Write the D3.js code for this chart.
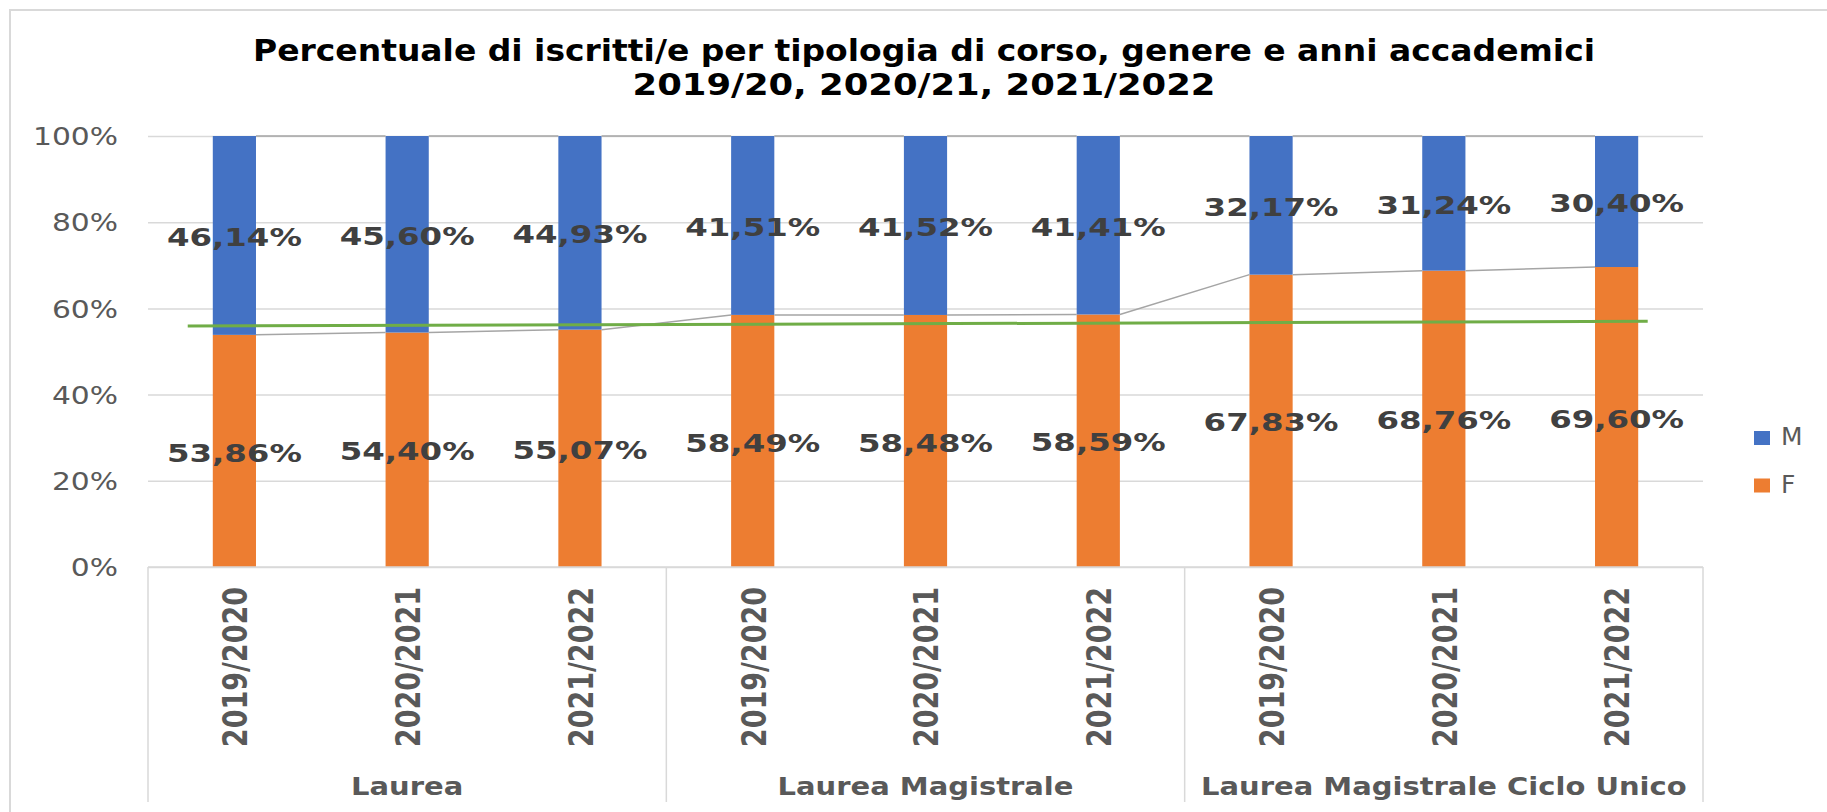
<!DOCTYPE html>
<html>
<head>
<meta charset="utf-8">
<script src="https://cdn.jsdelivr.net/npm/d3@7"></script>
<style>
  body { margin: 0; background: #fff; }
  svg { display: block; }
</style>
</head>
<body>
<svg id="chart" width="1827" height="812"></svg>
<script>
// ---- data ----
var years = ["2019/2020", "2020/2021", "2021/2022"];
var groups = ["Laurea", "Laurea Magistrale", "Laurea Magistrale Ciclo Unico"];
var femaleValues = [53.86, 54.40, 55.07, 58.49, 58.48, 58.59, 67.83, 68.76, 69.60];
var maleValues   = [46.14, 45.60, 44.93, 41.51, 41.52, 41.41, 32.17, 31.24, 30.40];
var yTicks = [0, 20, 40, 60, 80, 100];
// green line: [category position, value] at its two ends
var greenLine = [[-0.27, 55.9], [8.18, 57.0]];
var titleLines = ["Percentuale di iscritti/e per tipologia di corso, genere e anni accademici",
                  "2019/20, 2020/21, 2021/2022"];

var colors = {F: "#ED7D31", M: "#4472C4"};

// rows for the stack
var rows = femaleValues.map(function(f, i) {
  return {i: i, group: groups[Math.floor(i / 3)], year: years[i % 3], F: f, M: maleValues[i]};
});

var svg = d3.select("#chart"),
    plotLeft = 148, plotRight = 1703, plotTop = 136, plotBottom = 567;

var x = d3.scaleBand()
    .domain(d3.range(rows.length))
    .range([plotLeft, plotRight])
    .paddingInner(0.75)
    .paddingOuter(0.375);

var y = d3.scaleLinear()
    .domain([0, 100])
    .range([plotBottom, plotTop]);

var bw = x.bandwidth();
var cx = function(i) { return x(i) + bw / 2; };
// continuous position over categories (for the green line)
var xc = d3.scaleLinear().domain([0, rows.length - 1]).range([cx(0), cx(rows.length - 1)]);

// frame
svg.append("path")
    .attr("d", "M10,812 L10,10 L1827,10")
    .attr("fill", "none")
    .attr("stroke", "#d9d9d9")
    .attr("stroke-width", 2);

// title
svg.append("g")
    .attr("font-family", "DejaVu Sans")
    .attr("font-weight", "bold")
    .attr("font-size", 31)
    .attr("text-anchor", "middle")
    .attr("fill", "#000")
  .selectAll("text")
  .data(titleLines)
  .enter().append("text")
    .attr("x", 924)
    .attr("y", function(d, i) { return 61 + i * 34; })
    .attr("textLength", function(d, i) { return i == 0 ? 1342 : 583; })
    .attr("lengthAdjust", "spacingAndGlyphs")
    .text(function(d) { return d; });

// y axis + gridlines
var yAxis = svg.append("g")
    .attr("transform", "translate(" + plotLeft + ",0)")
    .call(d3.axisLeft(y).tickValues(yTicks).tickSize(-(plotRight - plotLeft)).tickFormat(function(d) { return d + "%"; }));
yAxis.select(".domain").remove();
yAxis.selectAll(".tick line")
    .attr("stroke", "#d9d9d9")
    .attr("stroke-width", 1.5);
yAxis.selectAll(".tick text")
    .attr("x", 0)
    .attr("dy", "0.36em")
    .attr("transform", "translate(-30,0) scale(1.24,1)")
    .attr("font-family", "DejaVu Sans")
    .attr("font-size", 24)
    .attr("fill", "#595959");

// stacked bars
var stack = d3.stack().keys(["F", "M"]);
var layers = stack(rows);

svg.append("g")
  .selectAll("g")
  .data(layers)
  .enter().append("g")
    .attr("fill", function(d) { return colors[d.key]; })
  .selectAll("rect")
  .data(function(d) { return d; })
  .enter().append("rect")
    .attr("x", function(d) { return x(d.data.i); })
    .attr("y", function(d) { return y(d[1]); })
    .attr("height", function(d) { return y(d[0]) - y(d[1]); })
    .attr("width", bw);

// series lines between bars
layers.forEach(function(layer) {
  var segs = layer.slice(0, -1).map(function(d, i) {
    return [[x(i) + bw, y(d[1])], [x(i + 1), y(layer[i + 1][1])]];
  });
  svg.append("g").selectAll("path")
    .data(segs)
    .enter().append("path")
      .attr("d", function(s) { return d3.line()(s); })
      .attr("fill", "none")
      .attr("stroke", "#a5a5a5")
      .attr("stroke-width", 1.5);
});

// green line
svg.append("path")
    .datum(greenLine)
    .attr("d", d3.line().x(function(d) { return xc(d[0]); }).y(function(d) { return y(d[1]); }))
    .attr("fill", "none")
    .attr("stroke", "#70AD47")
    .attr("stroke-width", 3);

// data labels
var fmt = function(v) { return v.toFixed(2).replace(".", ",") + "%"; };
svg.append("g")
    .attr("font-family", "DejaVu Sans")
    .attr("font-weight", "bold")
    .attr("font-size", 24)
    .attr("text-anchor", "middle")
    .attr("fill", "#404040")
  .selectAll("g")
  .data(layers)
  .enter().append("g")
  .selectAll("text")
  .data(function(d) { return d; })
  .enter().append("text")
    .attr("transform", function(d) {
      return "translate(" + cx(d.data.i) + "," + (y((d[0] + d[1]) / 2) + 2) + ") scale(1.35,1)";
    })
    .attr("dy", "0.36em")
    .text(function(d) { return fmt(d[1] - d[0]); });

// x axis line and category box
var boundaries = [plotLeft].concat(d3.range(1, groups.length).map(function(g) {
  return (x(g * 3 - 1) + bw + x(g * 3)) / 2;
})).concat([plotRight]);

svg.append("line")
    .attr("x1", plotLeft).attr("x2", plotRight)
    .attr("y1", plotBottom).attr("y2", plotBottom)
    .attr("stroke", "#d9d9d9")
    .attr("stroke-width", 1.5);

svg.append("g").selectAll("line")
    .data(boundaries)
    .enter().append("line")
      .attr("x1", function(d) { return d; })
      .attr("x2", function(d) { return d; })
      .attr("y1", plotBottom)
      .attr("y2", 802)
      .attr("stroke", "#d9d9d9")
      .attr("stroke-width", 1.5);

// year labels (rotated)
svg.append("g")
    .attr("font-family", "DejaVu Sans")
    .attr("font-weight", "bold")
    .attr("font-size", 27)
    .attr("text-anchor", "end")
    .attr("fill", "#595959")
  .selectAll("text")
  .data(rows)
  .enter().append("text")
    .attr("transform", function(d) { return "translate(" + (cx(d.i) + 1) + ",587) scale(1.22,1) rotate(-90)"; })
    .attr("dy", "0.36em")
    .text(function(d) { return d.year; });

// group labels
svg.append("g")
    .attr("font-family", "DejaVu Sans")
    .attr("font-weight", "bold")
    .attr("font-size", 25)
    .attr("text-anchor", "middle")
    .attr("fill", "#595959")
  .selectAll("text")
  .data(groups)
  .enter().append("text")
    .attr("transform", function(d, i) {
      return "translate(" + (boundaries[i] + boundaries[i + 1]) / 2 + ",795) scale(1.16,1)";
    })
    .text(function(d) { return d; });

// legend
var legend = svg.append("g")
    .attr("font-family", "DejaVu Sans")
    .attr("font-size", 24)
    .attr("fill", "#595959")
  .selectAll("g")
  .data(["M", "F"])
  .enter().append("g")
    .attr("transform", function(d, i) { return "translate(1754," + (431 + i * 47.5) + ")"; });

legend.append("rect")
    .attr("width", 16)
    .attr("height", 14)
    .attr("fill", function(d) { return colors[d]; });

legend.append("text")
    .attr("x", 26)
    .attr("y", 14)
    .attr("transform", "scale(1.04,1)")
    .text(function(d) { return d; });
</script>
</body>
</html>
